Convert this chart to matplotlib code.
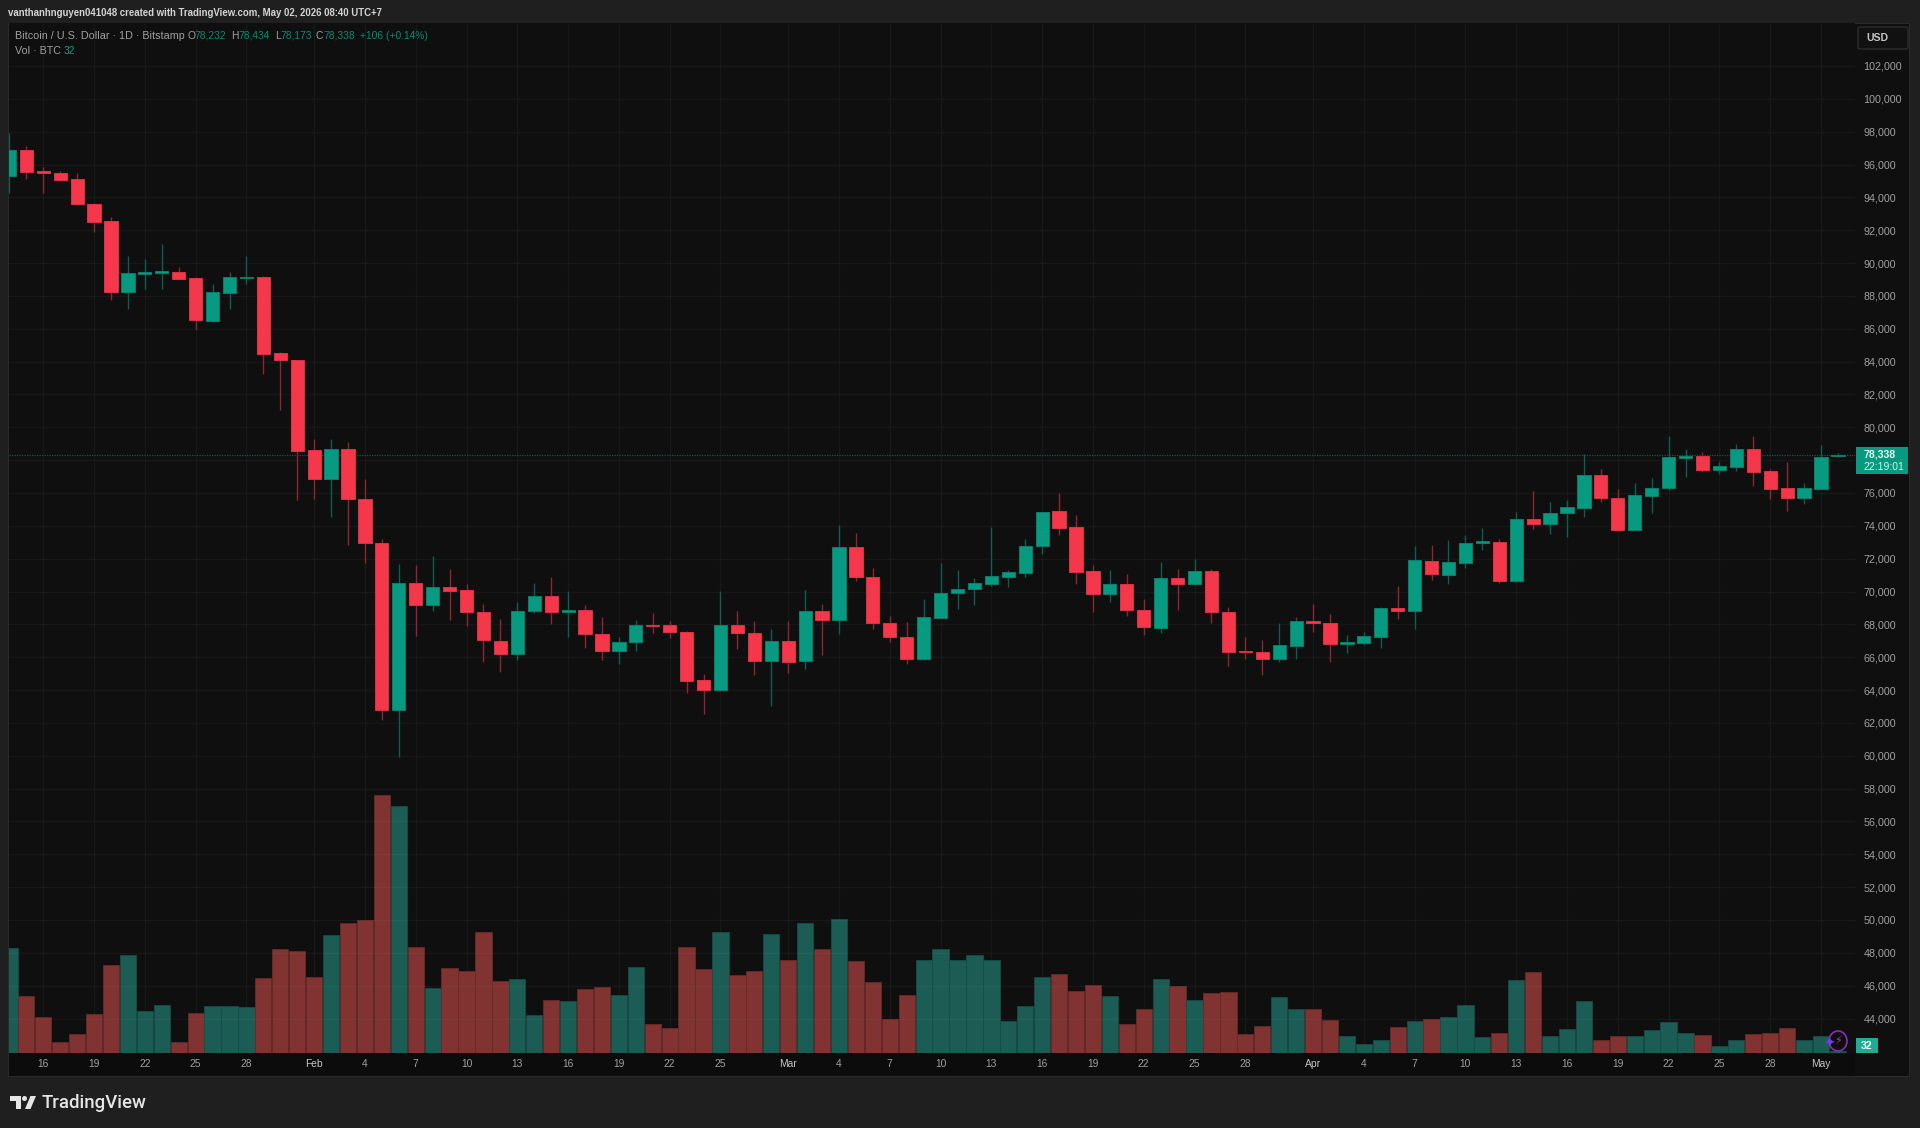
import matplotlib
matplotlib.use("Agg")
import matplotlib.pyplot as plt
from matplotlib.patches import Rectangle, Polygon, Ellipse, FancyBboxPatch
from matplotlib import font_manager
import numpy as np
import pandas as pd

# narrow face when it is there, plain Liberation Sans otherwise
names = {f.name for f in font_manager.fontManager.ttflist}
NARROW = 'Liberation Sans Narrow' in names
plt.rcParams['font.family'] = ['Liberation Sans Narrow' if NARROW else 'Liberation Sans', 'DejaVu Sans']
SCALE = 1.0 if NARROW else 0.84

# daily BTC/USD candles from 2026-01-14
opens = [95321, 96904, 95585, 95483, 95098, 93595, 92540, 88256, 89332, 89414,
         89474, 89089, 86490, 88195, 89068, 89129, 84501, 84115, 78618, 76832,
         78659, 75634, 72975, 62764, 70498, 69199, 70275, 70072, 68752, 67006,
         66174, 68793, 69747, 68732, 68854, 67433, 66357, 66925, 67981, 67940,
         67554, 64591, 63982, 67940, 67473, 65788, 66966, 65748, 68793, 68285,
         72690, 70884, 68082, 67230, 65910, 68387, 69909, 70133, 70478, 70904,
         71148, 72792, 74883, 73908, 71229, 69869, 70457, 68894, 67778, 70843,
         70478, 71269, 68752, 66357, 66296, 65870, 66681, 68184, 68103, 66824,
         66884, 67250, 68996, 68813, 71878, 71005, 71757, 72934, 73015, 70660,
         74436, 74132, 74781, 75106, 77096, 75715, 73766, 75837, 76304, 78151,
         78232, 77400, 77583, 78659, 77339, 76284, 75695, 76263, 78232]
highs = [97899, 97148, 95828, 95585, 95483, 93636, 92783, 90449, 90226, 91139,
         89758, 89170, 88703, 89454, 90429, 89210, 84582, 84115, 79268, 79268,
         79085, 76852, 73178, 71655, 71594, 72163, 71351, 70457, 69239, 68326,
         69381, 70498, 70884, 70031, 69199, 68427, 67250, 68265, 68671, 68184,
         67615, 64976, 70031, 68793, 68184, 67697, 68184, 70092, 69239, 74071,
         73543, 71411, 68509, 68143, 69564, 71736, 71310, 70802, 73929, 71290,
         73218, 74862, 76020, 74639, 71594, 71310, 71087, 69564, 71797, 71351,
         71980, 71351, 69077, 67250, 67047, 68062, 68468, 69239, 68631, 67351,
         67534, 69077, 70336, 72751, 72832, 73117, 73462, 73847, 73178, 74862,
         76121, 75451, 75553, 78395, 77441, 76243, 76588, 76913, 79471, 78679,
         78496, 77908, 78963, 79471, 77441, 77867, 76629, 78902, 78434]
lows = [94285, 95118, 94285, 95016, 93616, 91910, 87770, 87201, 88439, 88439,
        89007, 85963, 86389, 87201, 88723, 83222, 81054, 75573, 75654, 74517,
        72853, 71716, 62195, 59922, 67311, 68813, 68265, 67879, 65687, 65078,
        65829, 68671, 68021, 67250, 66539, 65829, 65606, 66397, 67494, 67149,
        63839, 62520, 63941, 66499, 64916, 63048, 65037, 65260, 66113, 67392,
        70660, 67717, 66925, 65606, 65829, 68387, 68955, 69199, 70356, 70295,
        70863, 72284, 73421, 70478, 68773, 69381, 68529, 67352, 67453, 68874,
        70376, 68103, 65484, 65870, 64916, 65728, 65910, 67534, 65687, 66255,
        66763, 66580, 68326, 67717, 70701, 70457, 71411, 72548, 70518, 70579,
        73827, 73503, 73299, 74538, 75451, 73705, 73746, 74802, 76162, 76974,
        77299, 77156, 77359, 76446, 75634, 74883, 75309, 76263, 78173]
closes = [96904, 95564, 95463, 95077, 93616, 92519, 88256, 89373, 89474, 89495,
          89048, 86511, 88236, 89129, 89170, 84460, 84075, 78577, 76832, 78659,
          75614, 72934, 62764, 70498, 69199, 70254, 70051, 68732, 67027, 66174,
          68793, 69747, 68732, 68854, 67392, 66357, 66945, 67940, 67920, 67534,
          64570, 63982, 67940, 67453, 65788, 66966, 65687, 68793, 68285, 72690,
          70863, 68062, 67209, 65910, 68427, 69930, 70173, 70498, 70945, 71168,
          72771, 74862, 73888, 71188, 69869, 70457, 68874, 67818, 70843, 70478,
          71269, 68732, 66316, 66296, 65870, 66722, 68184, 68062, 66824, 66925,
          67270, 68975, 68813, 71939, 71046, 71777, 72975, 73076, 70660, 74436,
          74132, 74781, 75147, 77096, 75695, 73746, 75857, 76324, 78171, 78253,
          77380, 77623, 78659, 77299, 76263, 75695, 76284, 78171, 78338]
volumes = [2512, 1352, 864, 248, 456, 920, 2096, 2336, 992, 1144,
           248, 960, 1120, 1128, 1088, 1784, 2488, 2448, 1816, 2824,
           3104, 3176, 6192, 5912, 2544, 1552, 2040, 1952, 2904, 1728,
           1760, 904, 1264, 1240, 1536, 1576, 1392, 2064, 696, 600,
           2528, 2008, 2888, 1856, 1952, 2840, 2232, 3104, 2488, 3216,
           2192, 1688, 800, 1376, 2232, 2488, 2232, 2336, 2216, 752,
           1112, 1816, 1896, 1480, 1632, 1352, 680, 1040, 1760, 1592,
           1256, 1440, 1448, 440, 640, 1336, 1048, 1048, 776, 392,
           200, 312, 608, 760, 816, 856, 1136, 368, 464, 1736,
           1944, 408, 576, 1232, 296, 392, 408, 536, 728, 464,
           432, 152, 312, 448, 464, 600, 296, 408, 32]

tick_dates = ["2026-01-16", "2026-01-19", "2026-01-22", "2026-01-25", "2026-01-28",
              "2026-02-01", "2026-02-04", "2026-02-07", "2026-02-10", "2026-02-13",
              "2026-02-16", "2026-02-19", "2026-02-22", "2026-02-25", "2026-03-01",
              "2026-03-04", "2026-03-07", "2026-03-10", "2026-03-13", "2026-03-16",
              "2026-03-19", "2026-03-22", "2026-03-25", "2026-03-28", "2026-04-01",
              "2026-04-04", "2026-04-07", "2026-04-10", "2026-04-13", "2026-04-16",
              "2026-04-19", "2026-04-22", "2026-04-25", "2026-04-28", "2026-05-01"]
tick_labels = ["16", "19", "22", "25", "28", "Feb", "4", "7", "10", "13", "16", "19",
               "22", "25", "Mar", "4", "7", "10", "13", "16", "19", "22", "25", "28",
               "Apr", "4", "7", "10", "13", "16", "19", "22", "25", "28", "May"]
price_ticks = list(range(44000, 104000, 2000))

GREEN = "#089981"
RED = "#f5374b"
W, H = 1920, 1128


def px(x, y):
    return x / W, 1 - y / H


def add_rect(x0, y0, x1, y1, color, z=-1):
    fig.add_artist(Rectangle(px(x0, y1), (x1 - x0) / W, (y1 - y0) / H, transform=fig.transFigure,
                             facecolor=color, edgecolor="none", zorder=z))


def label(x, y, s, color="#a0a0a0", size=8.8, weight="normal", ha="left", z=6, **kw):
    fig.text(*px(x, y), s, color=color, fontsize=size * SCALE, fontweight=weight, ha=ha, va="center", zorder=z, **kw)


fig = plt.figure(figsize=(19.2, 11.28), dpi=100, facecolor="#1f1f1f")

# pane and time-axis band behind the chart
add_rect(8, 23, 1910, 1077, "#2a2a2a", z=-3)
add_rect(9, 24, 1909, 1076, "#0f0f0f", z=-2)
add_rect(9, 1052, 1855, 1076, "#0c0c0c", z=-2)

left, right, top, bottom = 9, 1855, 23, 1052.5
ax_vol = fig.add_axes([left / W, 1 - bottom / H, (right - left) / W, (bottom - top) / H])
ax_vol.set_facecolor("#0f0f0f")
ax_price = ax_vol.twinx()

dates = pd.date_range("2026-01-14", periods=len(closes))
x = np.arange(len(closes))
o, h, l, c = map(np.array, (opens, highs, lows, closes))
up = c >= o

# volume pane along the bottom
vol_colors = np.where(up, "#1b5d55", "#803331")
vol_edges = np.where(up, "#174b45", "#652a29")
ax_vol.bar(x, volumes, width=0.96, color=vol_colors, edgecolor=vol_edges, linewidth=0.6)

# candles
ax_price.vlines(x[up], l[up], h[up], color="#0b5e50", linewidth=1.0, zorder=3)
ax_price.vlines(x[~up], l[~up], h[~up], color="#8c2631", linewidth=1.0, zorder=3)
bottoms = np.minimum(o, c)
heights = np.abs(c - o)
ax_price.bar(x[up], heights[up], bottom=bottoms[up], width=0.78, color=GREEN,
             edgecolor="#0a7f6c", linewidth=0.7, zorder=4)
ax_price.bar(x[~up], heights[~up], bottom=bottoms[~up], width=0.78, color=RED,
             edgecolor="#d93345", linewidth=0.7, zorder=4)

ax_price.axhline(closes[-1], color="#0f5a4e", linestyle=(0, (1, 1)), linewidth=0.9, zorder=2)

ax_vol.set_xlim(-0.024, 109.01)
ax_vol.set_ylim(0, 24708)
ax_price.set_ylim(41930, 104618)

tick_pos = [dates.get_loc(pd.Timestamp(d)) for d in tick_dates]
ax_vol.set_xticks(tick_pos)
ax_vol.set_xticklabels(tick_labels, color="#a0a0a0", fontsize=8.8 * SCALE)
ax_vol.set_yticks([])
ax_vol.tick_params(axis="x", length=0, pad=5)
for t, s in zip(ax_vol.get_xticklabels(), tick_labels):
    if s in ("Feb", "Mar", "Apr", "May"):
        t.set_color("#c4c4c4")
ax_vol.grid(axis="x", color="#ffffff", alpha=0.04, linewidth=1)
ax_vol.set_axisbelow(True)

# the scale label under the last-price tag stays blank
ax_price.set_yticks(price_ticks)
ax_price.set_yticklabels(["" if abs(p - closes[-1]) < 500 else f"{p:,}" for p in price_ticks],
                         color="#a0a0a0", fontsize=9.2 * SCALE)
ax_price.tick_params(axis="y", length=0, pad=6)
ax_price.grid(axis="y", color="#ffffff", alpha=0.04, linewidth=1)
ax_price.set_axisbelow(True)
for a in (ax_vol, ax_price):
    for s in a.spines.values():
        s.set_visible(False)

# header and legend lines
label(8, 13, "vanthanhnguyen041048 created with TradingView.com, May 02, 2026 08:40 UTC+7",
      color="#d4d4d4", size=8.3, weight="bold")
label(15, 36, "Bitcoin / U.S. Dollar · 1D · Bitstamp", size=9.2)
for xpos, letter, val_x, val in [(187, "O", 194, opens[-1]), (231, "H", 238, highs[-1]),
                                 (275, "L", 280, lows[-1]), (316, "C", 323, closes[-1])]:
    label(xpos, 36, letter)
    label(val_x, 36, f"{val:,}", color="#0a8a75")
label(360, 36, f"+{closes[-1] - opens[-1]} (+0.14%)", color="#0a8a75")
label(15, 51, "Vol · BTC", size=9.2)
label(64, 51, f"{volumes[-1]}", color="#1c9c88")

# currency button
fig.add_artist(FancyBboxPatch(px(1858, 49), 50 / W, 22 / H, boxstyle="round,pad=0,rounding_size=0.0015",
                              transform=fig.transFigure, facecolor="#111111", edgecolor="#2e2e2e",
                              linewidth=1, zorder=5))
label(1866, 38, "USD", color="#c4c4c4", size=9, weight="bold")

# last price and last volume tags on the scale
add_rect(1856, 447, 1908, 474, GREEN, z=5)
label(1864, 454, f"{closes[-1]:,}", color="#e6f5f2", size=9, weight="bold")
label(1864, 467, "22:19:01", color="#d5efea", size=9)
add_rect(1856, 1038, 1878, 1053, "#22ab94", z=5)
label(1867, 1046, f"{volumes[-1]}", color="#eef9f7", size=9, weight="bold", ha="center")

# small badge next to the last bar
fig.add_artist(Ellipse(px(1838, 1041), 18 / W, 20 / H, transform=fig.transFigure, facecolor="#0f0f0f",
                       edgecolor="#8e2cb0", linewidth=1.2, zorder=5))
fig.text(*px(1838, 1041), "⚡", color="#a23ac4", fontsize=8, ha="center", va="center",
         family="DejaVu Sans", zorder=6)
fig.text(*px(1829, 1044), "✦", color="#6b3cf0", fontsize=10, ha="center", va="center",
         family="DejaVu Sans", zorder=6)

# footer logo and wordmark
logo_color = "#e6e6e6"
fig.add_artist(Polygon([px(10, 1096), px(21, 1096), px(21, 1109), px(16, 1109), px(16, 1101), px(10, 1101)],
                       closed=True, transform=fig.transFigure, facecolor=logo_color, edgecolor="none"))
fig.add_artist(Ellipse(px(24.5, 1098.5), 5 / W, 5 / H, transform=fig.transFigure, facecolor=logo_color, edgecolor="none"))
fig.add_artist(Polygon([px(30.5, 1096), px(36, 1096), px(30.5, 1109), px(25, 1109)],
                       closed=True, transform=fig.transFigure, facecolor=logo_color, edgecolor="none"))
fig.text(*px(42, 1103), "TradingView", color=logo_color, fontsize=13.4, family="Roboto", fontweight="medium", va="center")

fig.savefig("out.png", dpi=100, facecolor=fig.get_facecolor())
